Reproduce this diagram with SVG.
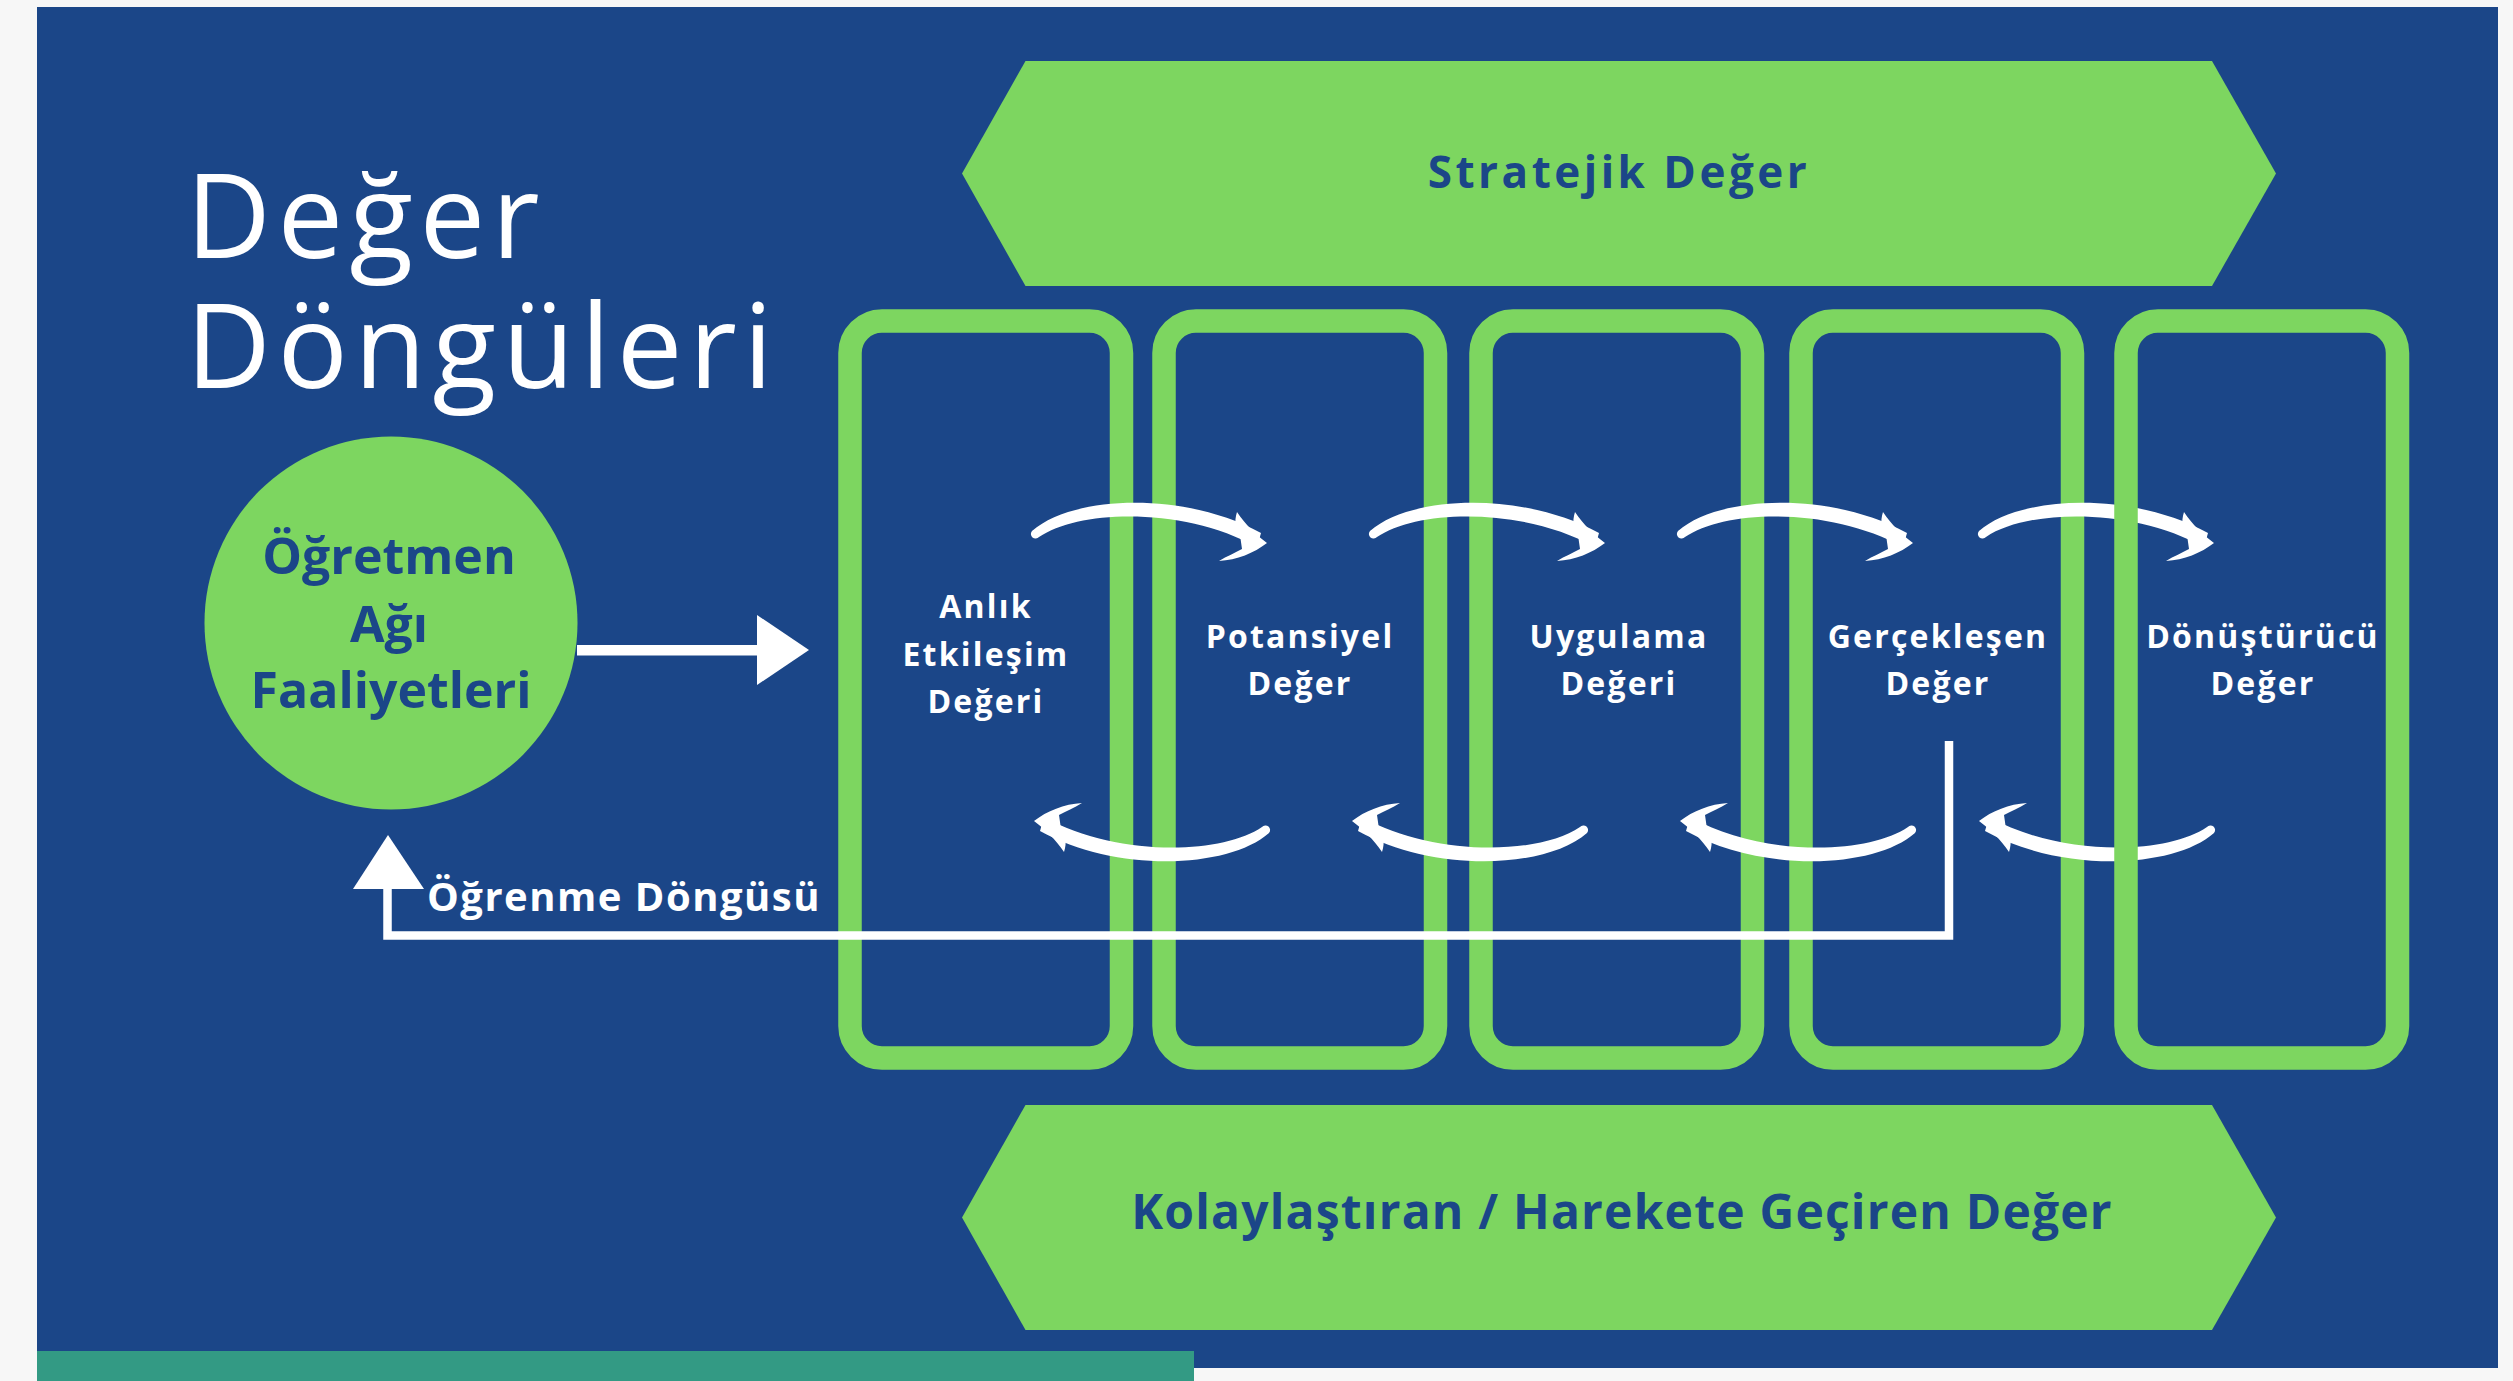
<svg xmlns="http://www.w3.org/2000/svg" width="2513" height="1381" viewBox="0 0 2513 1381">
<style>
.bg{fill:#1b4688}
.grn{fill:#7dd660}
.col{fill:none;stroke:#7dd660;stroke-width:23.5}
.wt{fill:#ffffff}
.ttl{font-family:"Open Sans","Liberation Sans",sans-serif;font-weight:400;font-size:117px;fill:#ffffff;letter-spacing:6.5px}
.lbl{font-family:"Open Sans","Liberation Sans",sans-serif;font-weight:700;fill:#ffffff;text-anchor:middle;font-size:32px;letter-spacing:2.2px}
.loop{font-family:"Open Sans","Liberation Sans",sans-serif;font-weight:700;fill:#ffffff;text-anchor:start;font-size:40px;letter-spacing:1.5px}
.dk{font-family:"Open Sans","Liberation Sans",sans-serif;font-weight:700;fill:#1b4688;text-anchor:middle}
.ln{fill:none;stroke:#ffffff;stroke-width:8.5}
</style>
<defs>
<g id="arc">
<path d="M-3,-2 C38,-38 150,-42 226,0 L222,14 C150,-26 45,-24 4,4 A4.6,4.6 0 0 1 -3,-2 Z" fill="#ffffff"/>
<path d="M232,10 C221,2 210,-9 202,-21 C199,-11 200,-4 205,2 L207,16 C200,20 192,23 184,28 C202,27 219,20 232,10 Z" fill="#ffffff"/>
</g>
</defs>
<rect x="0" y="0" width="2513" height="1381" fill="#f7f7f7"/>
<rect class="bg" x="37" y="7" width="2461" height="1361"/>
<rect x="37" y="1351" width="1157" height="30" fill="#339a84"/>
<text class="ttl"><tspan x="186" y="258">Değer</tspan><tspan x="186" y="388">Döngüleri</tspan></text>
<g id="strategic">
<polygon class="grn" points="962,173.5 1025.5,61 2212,61 2276,173.5 2212,286 1025.5,286"/>
<text class="dk" x="1619" y="188" font-size="44" letter-spacing="3.5">Stratejik Değer</text>
</g>
<g id="enabling">
<polygon class="grn" points="962,1217.5 1025.5,1105 2212,1105 2276,1217.5 2212,1330 1025.5,1330"/>
<text class="dk" x="1622" y="1229" font-size="48" letter-spacing="1.2">Kolaylaştıran / Harekete Geçiren Değer</text>
</g>
<g id="activities">
<circle class="grn" cx="391" cy="623" r="186.5"/>
<text class="dk" x="389" y="574" font-size="50">Öğretmen</text>
<text class="dk" x="389" y="642" font-size="50">Ağı</text>
<text class="dk" x="391" y="708" font-size="50">Faaliyetleri</text>
</g>
<g id="col1">
<rect class="col" x="850" y="321" width="271.5" height="737" rx="32"/>
<text class="lbl" x="986" y="618">Anlık</text>
<text class="lbl" x="986" y="666">Etkileşim</text>
<text class="lbl" x="986" y="713">Değeri</text>
</g>
<g id="col2">
<rect class="col" x="1164" y="321" width="271.5" height="737" rx="32"/>
<text class="lbl" x="1300" y="648">Potansiyel</text>
<text class="lbl" x="1300" y="695">Değer</text>
</g>
<g id="col3">
<rect class="col" x="1481" y="321" width="271.5" height="737" rx="32"/>
<text class="lbl" x="1619" y="648">Uygulama</text>
<text class="lbl" x="1619" y="695">Değeri</text>
</g>
<g id="col4">
<rect class="col" x="1801" y="321" width="271.5" height="737" rx="32"/>
<text class="lbl" x="1938" y="648">Gerçekleşen</text>
<text class="lbl" x="1938" y="695">Değer</text>
</g>
<g id="connectors">
<rect class="wt" x="577" y="645" width="182" height="10.5"/>
<polygon class="wt" points="757,615 809,650 757,685"/>
<polyline class="ln" points="1949,741 1949,935.5 387.5,935.5 387.5,880"/>
<polygon class="wt" points="353,889 388,835 424,889"/>
<use href="#arc" transform="translate(1035,533)"/>
<use href="#arc" transform="translate(1373,533)"/>
<use href="#arc" transform="translate(1681,533)"/>
<use href="#arc" transform="translate(1982,533)"/>
<use href="#arc" transform="translate(1266,831) rotate(180)"/>
<use href="#arc" transform="translate(1584,831) rotate(180)"/>
<use href="#arc" transform="translate(1912,831) rotate(180)"/>
<use href="#arc" transform="translate(2211,831) rotate(180)"/>
<text class="loop" x="427" y="911">Öğrenme Döngüsü</text>
</g>
<g id="col5">
<rect class="col" x="2126" y="321" width="271.5" height="737" rx="32"/>
<text class="lbl" x="2263" y="648">Dönüştürücü</text>
<text class="lbl" x="2263" y="695">Değer</text>
</g>
</svg>
